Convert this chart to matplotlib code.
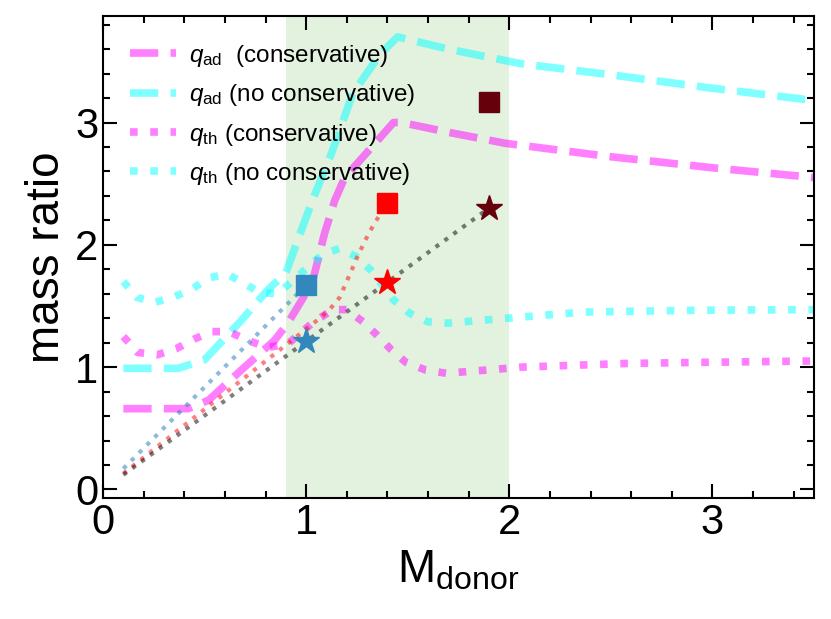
import matplotlib
matplotlib.use("Agg")
import matplotlib.pyplot as plt

plt.rcParams['font.family'] = ['Liberation Sans', 'DejaVu Sans']
plt.rcParams['mathtext.fontset'] = 'custom'
plt.rcParams['mathtext.rm'] = 'Liberation Sans'
plt.rcParams['mathtext.it'] = 'Liberation Sans:italic'

# q_ad curves
m_ad_cons = [0.1, 0.25, 0.42, 0.52, 0.68, 0.845, 0.91, 1.03, 1.09, 1.14, 1.19, 1.35, 1.43, 1.47, 1.7, 1.98, 2.5, 3.0, 3.5]
q_ad_cons = [0.66, 0.66, 0.66, 0.73, 0.975, 1.22, 1.36, 1.69, 2.09, 2.36, 2.55, 2.85, 3.0, 3.0, 2.92, 2.83, 2.72, 2.63, 2.55]

m_ad_nocons = [0.1, 0.25, 0.37, 0.5, 0.68, 0.81, 0.9, 0.97, 1.03, 1.125, 1.23, 1.365, 1.45, 1.7, 2.06, 2.5, 3.0, 3.5]
q_ad_nocons = [0.99, 0.99, 0.99, 1.06, 1.38, 1.63, 1.77, 2.09, 2.36, 2.75, 3.24, 3.56, 3.70, 3.60, 3.48, 3.39, 3.28, 3.18]

# q_th curves
m_th_cons = [0.1, 0.17, 0.265, 0.36, 0.45, 0.535, 0.62, 0.71, 0.81, 0.91, 1.03, 1.13, 1.2, 1.28, 1.35, 1.42, 1.49, 1.59, 1.69, 1.88, 2.06, 2.58, 3.0, 3.5]
q_th_cons = [1.25, 1.12, 1.10, 1.15, 1.23, 1.29, 1.29, 1.22, 1.16, 1.19, 1.36, 1.47, 1.47, 1.37, 1.26, 1.14, 1.04, 0.975, 0.95, 0.975, 1.0, 1.03, 1.04, 1.05]

m_th_nocons = [0.1, 0.167, 0.255, 0.344, 0.44, 0.52, 0.61, 0.69, 0.77, 0.86, 0.93, 1.01, 1.08, 1.165, 1.25, 1.32, 1.43, 1.51, 1.60, 1.70, 1.99, 2.37, 2.92, 3.5]
q_th_nocons = [1.70, 1.57, 1.53, 1.57, 1.64, 1.73, 1.76, 1.69, 1.61, 1.60, 1.70, 1.82, 1.92, 1.97, 1.90, 1.79, 1.55, 1.44, 1.37, 1.36, 1.40, 1.45, 1.465, 1.47]

# evolution tracks
m_blue = [0.1, 1.0]
q_blue = [0.17, 1.67]
m_red = [0.1, 1.075, 1.12, 1.165, 1.21, 1.26, 1.31, 1.4]
q_red = [0.13, 1.41, 1.48, 1.57, 1.74, 1.93, 2.10, 2.35]
m_black = [0.1, 1.9]
q_black = [0.12, 2.3]

# end points
m_pts = [1.0, 1.4, 1.9]
q_square = [1.67, 2.34, 3.17]
q_star = [1.21, 1.70, 2.30]
pt_colors = ['#3288bd', '#ff0000', '#66000a']

fig = plt.figure(figsize=(8.31, 6.19), dpi=100)
ax = fig.add_axes([0.124, 0.1955, 0.8555, 0.7785])

ax.axvspan(0.9, 2.0, color='#e3f2df', zorder=0, lw=0)

lw = 5.5
ax.plot(m_ad_cons, q_ad_cons, '--', color='magenta', alpha=0.5, lw=lw, label=r'$q_{\rm ad}$  (conservative)')
ax.plot(m_ad_nocons, q_ad_nocons, '--', color='cyan', alpha=0.5, lw=lw, label=r'$q_{\rm ad}$ (no conservative)')
ax.plot(m_th_cons, q_th_cons, ':', color='magenta', alpha=0.5, lw=lw, label=r'$q_{\rm th}$ (conservative)')
ax.plot(m_th_nocons, q_th_nocons, ':', color='cyan', alpha=0.5, lw=lw, label=r'$q_{\rm th}$ (no conservative)')

ax.plot(m_blue, q_blue, ':', color='tab:blue', alpha=0.5, lw=3)
ax.plot(m_red, q_red, ':', color='red', alpha=0.5, lw=3)
ax.plot(m_black, q_black, ':', color='black', alpha=0.5, lw=3)

for m, qs, qt, c in zip(m_pts, q_square, q_star, pt_colors):
    ax.plot(m, qs, 's', color=c, ms=15)
    ax.plot(m, qt, '*', color=c, ms=19)

ax.set_xlim(0, 3.5)
ax.set_ylim(-0.07, 3.87)
ax.set_xticks([0, 1, 2, 3])
ax.set_yticks([0, 1, 2, 3])
ax.set_xticks([i * 0.2 for i in range(18)], minor=True)
ax.set_yticks([i * 0.2 for i in range(20)], minor=True)
ax.tick_params(which='both', direction='in', top=True, right=True, width=1.5, labelsize=30)
ax.tick_params(which='major', length=10)
ax.tick_params(which='minor', length=5)
for s in ax.spines.values():
    s.set_linewidth(1.5)

ax.set_xlabel(r'M$_{\rm donor}$', fontsize=33)
ax.set_ylabel('mass ratio', fontsize=33)

ax.legend(loc='upper left', frameon=False, fontsize=17.5, handlelength=1.9, handletextpad=0.55,
          labelspacing=0.55, borderaxespad=0.7)

plt.savefig('out.png', dpi=100)
